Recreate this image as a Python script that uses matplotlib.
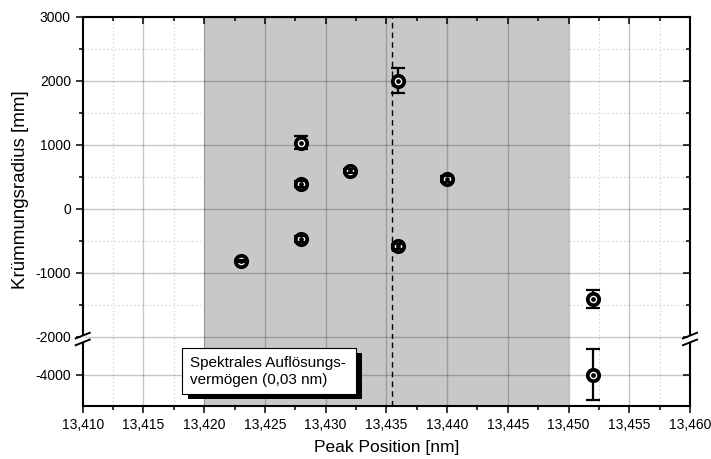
import matplotlib
matplotlib.use("Agg")
import matplotlib.pyplot as plt
from matplotlib.ticker import FixedLocator
from matplotlib.patches import Rectangle, Polygon
from matplotlib.lines import Line2D

plt.rcParams["font.family"] = ["Liberation Sans", "DejaVu Sans"]
plt.rcParams["axes.unicode_minus"] = False

# Measured peaks: position [nm], curvature radius [mm], uncertainty [mm]
peak_pos = [13.423, 13.428, 13.428, 13.428, 13.432, 13.436, 13.436, 13.440, 13.452, 13.452]
radius = [-820, 1030, 390, -470, 590, 2000, -590, 460, -1410, -4000]
radius_err = [15, 100, 50, 50, 35, 200, 35, 50, 143, 400]

# Spectral resolution band and its centre
band = [13.420, 13.450]
band_centre = 13.4355

x_ticks = [13.410, 13.415, 13.420, 13.425, 13.430, 13.435, 13.440, 13.445, 13.450, 13.455, 13.460]
x_ticklabels = [f"{v:.3f}".replace(".", ",") for v in x_ticks]
x_minor = [13.4125 + 0.005 * i for i in range(10)]
upper_yticks = [-2000, -1000, 0, 1000, 2000, 3000]
upper_yminor = [-1500, -500, 500, 1500, 2500]
lower_yticks = [-4000]

W, H = 711, 459
fig = plt.figure(figsize=(W / 100, H / 100), dpi=100)

L, R = 82.7, 690.0
top_px, split_px, bot_px = 16.7, 339.0, 405.7


def fx(px):
    return px / W


def fy(py):
    return 1 - py / H


ax_up = fig.add_axes([fx(L), fy(split_px), fx(R) - fx(L), fy(top_px) - fy(split_px)])
ax_lo = fig.add_axes([fx(L), fy(bot_px), fx(R) - fx(L), fy(split_px) - fy(bot_px)])

px_per_unit = 64.0 / 1000.0
ax_up.set_ylim(3000 - (split_px - top_px) / px_per_unit, 3000)
lo_ref_px = 374.7
ax_lo.set_ylim(-4000 - (bot_px - lo_ref_px) / px_per_unit, -4000 + (lo_ref_px - split_px) / px_per_unit)

grid_major = dict(color="black", alpha=0.22, lw=1.0, zorder=1.5)
grid_minor = dict(color="#d8d8d8", lw=0.8, ls=(0, (1.5, 2)), zorder=0.5)

for ax, yt, ym in ((ax_up, upper_yticks, upper_yminor), (ax_lo, lower_yticks, [])):
    ax.set_xlim(x_ticks[0], x_ticks[-1])
    ax.xaxis.set_major_locator(FixedLocator(x_ticks))
    ax.xaxis.set_minor_locator(FixedLocator(x_minor))
    ax.axvspan(band[0], band[1], color="#c8c8c8", zorder=1, lw=0)
    ax.axvline(band_centre, color="black", lw=1.0, ls=(0, (4, 3)), zorder=2)
    for v in x_ticks[1:-1]:
        ax.axvline(v, **grid_major)
    for v in x_minor:
        ax.axvline(v, **grid_minor)
    for v in yt:
        ax.axhline(v, **grid_major)
    for v in ym:
        ax.axhline(v, **grid_minor)
    for s in ax.spines.values():
        s.set_linewidth(1.5)
        s.set_zorder(6)

# upper panel
ax_up.yaxis.set_major_locator(FixedLocator(upper_yticks))
ax_up.yaxis.set_minor_locator(FixedLocator(upper_yminor))
ax_up.spines["bottom"].set_visible(False)
ax_up.tick_params(axis="x", which="both", bottom=False, labelbottom=False,
                  top=True, direction="in")
ax_up.tick_params(axis="y", which="both", left=True, right=False, labelsize=10,
                  direction="out")
ax_up.tick_params(axis="both", which="major", length=5, width=1.1)
ax_up.tick_params(axis="both", which="minor", length=3, width=1.1)

# lower panel
ax_lo.yaxis.set_major_locator(FixedLocator(lower_yticks))
ax_lo.yaxis.set_minor_locator(FixedLocator([]))
ax_lo.spines["top"].set_visible(False)
ax_lo.tick_params(axis="x", which="both", top=False, direction="out", labelsize=10)
ax_lo.tick_params(axis="y", which="both", direction="out", labelsize=10)
ax_lo.tick_params(axis="both", which="major", length=5, width=1.1)
ax_lo.tick_params(axis="both", which="minor", length=3, width=1.1)
ax_lo.set_xticklabels(x_ticklabels)

# inward ticks on the right spine
for ax, ym in ((ax_up, upper_yminor), (ax_lo, [])):
    ax2 = ax.twinx()
    ax2.set_ylim(ax.get_ylim())
    ax2.yaxis.set_major_locator(FixedLocator(ax.get_yticks()))
    ax2.yaxis.set_minor_locator(FixedLocator(ym))
    ax2.tick_params(axis="y", which="both", direction="in", labelright=False, width=1.1)
    ax2.tick_params(axis="y", which="major", length=5)
    ax2.tick_params(axis="y", which="minor", length=3)
    for s in ax2.spines.values():
        s.set_visible(False)

# data: points above the break go to the upper panel, the rest below
y_break = ax_up.get_ylim()[0]
for xv, yv, ev in zip(peak_pos, radius, radius_err):
    ax = ax_up if yv > y_break else ax_lo
    _, caps, bars = ax.errorbar([xv], [yv], yerr=[ev], fmt="none", ecolor="black",
                                elinewidth=1.6, capsize=5, capthick=1.6, zorder=3)
    ax.plot([xv], [yv], marker="o", ms=8.2, mfc="white", mec="black", mew=2.7,
            ls="none", zorder=4)
    for c in caps:
        c.set_zorder(5)
    ax.plot([xv], [yv], marker="o", ms=2.4, color="black", ls="none", zorder=6)

ax_lo.set_xlabel("Peak Position [nm]", fontsize=12.5, labelpad=6)
fig.text(fx(20.5), fy(190), "Krümmungsradius [mm]", rotation=90,
         ha="center", va="center", fontsize=13.5)

# axis break marks on both vertical spines
for xs in (L, R):
    gap = Polygon([(fx(xs - 2), fy(336.5)), (fx(xs + 2), fy(335.5)),
                   (fx(xs + 2), fy(342.0)), (fx(xs - 2), fy(343.0))],
                  closed=True, transform=fig.transFigure, fc="white", ec="none", zorder=20)
    fig.add_artist(gap)
    for yc in (335.6, 342.4):
        fig.add_artist(Line2D([fx(xs - 7), fx(xs + 7)], [fy(yc + 2.8), fy(yc - 2.8)],
                              transform=fig.transFigure, color="black", lw=1.4, zorder=21))

# annotation box with drop shadow
bx0, bx1, by0, by1 = 182.0, 355.7, 348.3, 394.0
fig.add_artist(Rectangle((fx(bx0 + 6), fy(by1 + 5)), fx(bx1) - fx(bx0), fy(by0) - fy(by1),
                         transform=fig.transFigure, fc="black", ec="none", zorder=22))
fig.add_artist(Rectangle((fx(bx0), fy(by1)), fx(bx1) - fx(bx0), fy(by0) - fy(by1),
                         transform=fig.transFigure, fc="white", ec="black", lw=0.8, zorder=23))
fig.text(fx(190.0), fy((by0 + by1) / 2), "Spektrales Auflösungs-\nvermögen (0,03 nm)",
         ha="left", va="center", fontsize=11, linespacing=1.25, zorder=24)

fig.savefig("out.png", dpi=100)
